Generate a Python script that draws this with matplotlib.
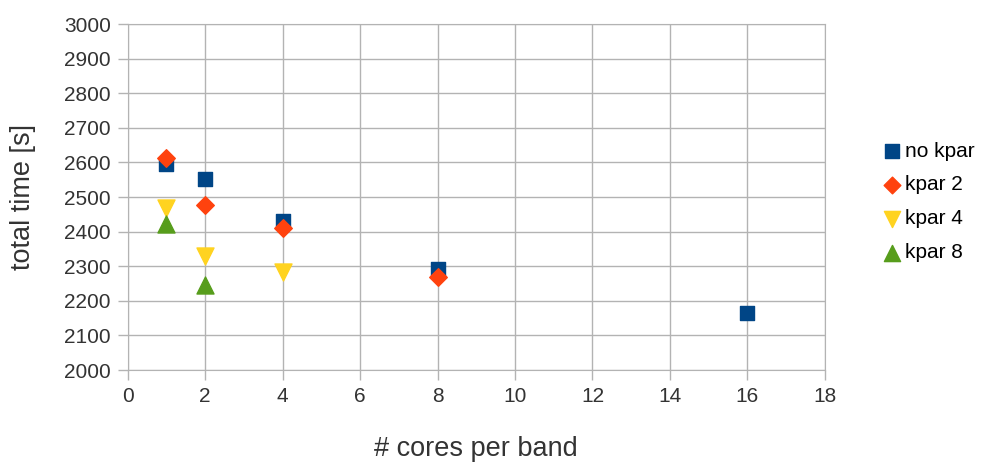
import matplotlib
matplotlib.use("Agg")
import matplotlib.pyplot as plt

plt.rcParams['font.family'] = ['Liberation Sans', 'DejaVu Sans']

# cores per band and total time [s] per kpar setting
cores_no_kpar = [1, 2, 4, 8, 16]
time_no_kpar = [2595, 2552, 2431, 2292, 2165]
cores_kpar2 = [1, 2, 4, 8]
time_kpar2 = [2613, 2477, 2410, 2270]
cores_kpar4 = [1, 2, 4]
time_kpar4 = [2468, 2330, 2283]
cores_kpar8 = [1, 2]
time_kpar8 = [2422, 2246]

fig = plt.figure(figsize=(9.82, 4.62), dpi=100)
ax = fig.add_axes([0.130, 0.199, 0.710, 0.749])

ax.scatter(cores_no_kpar, time_no_kpar, marker='s', s=105, color='#004586', label='no kpar', zorder=3)
ax.scatter(cores_kpar2, time_kpar2, marker='D', s=80, color='#ff420e', label='kpar 2', zorder=3)
ax.scatter(cores_kpar4, time_kpar4, marker='v', s=150, color='#ffd320', label='kpar 4', zorder=3)
ax.scatter(cores_kpar8, time_kpar8, marker='^', s=150, color='#579d1c', label='kpar 8', zorder=3)

ax.set_xlim(0, 18)
ax.set_ylim(2000, 3000)
ax.set_xticks(range(0, 19, 2))
ax.set_yticks(range(2000, 3001, 100))
ax.grid(True, color='#b3b3b3', linewidth=1)
ax.set_axisbelow(True)
for s in ax.spines.values():
    s.set_color('#b3b3b3')
ax.tick_params(direction='out', length=7, width=1, color='#b3b3b3', labelsize=15,
               labelcolor='#333333', pad=5)

ax.set_xlabel('# cores per band', fontsize=19.5, color='#333333', labelpad=22)
ax.set_ylabel('total time [s]', fontsize=19.5, color='#333333', labelpad=20)

ax.legend(loc='center left', bbox_to_anchor=(0.883, 0.563), bbox_transform=fig.transFigure,
          frameon=False, fontsize=15, handlelength=0.6, handletextpad=0.3,
          labelspacing=0.71, markerscale=0.95)

fig.savefig('out.png', dpi=100)
